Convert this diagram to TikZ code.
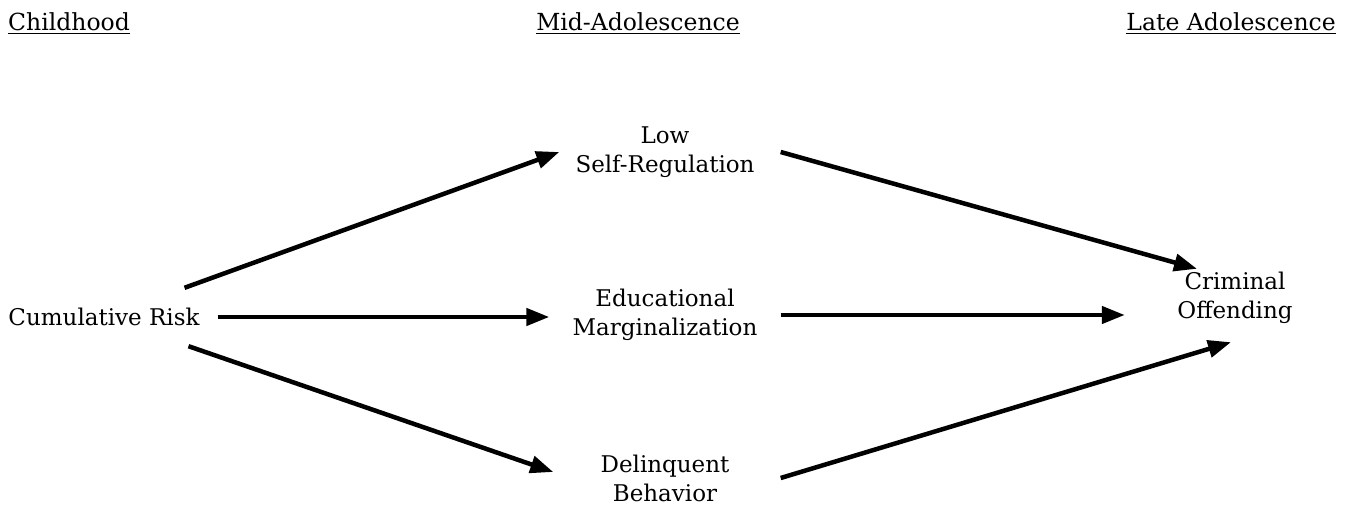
\documentclass[tikz,border=0pt]{standalone}
\usepackage{fontspec}
\setmainfont{DejaVu Serif}
\usetikzlibrary{arrows.meta}
\begin{document}
\begin{tikzpicture}[x=1pt,y=-1pt,
  lbl/.style={font=\fontsize{23}{29}\selectfont, align=center, inner sep=0pt},
  head/.style={font=\fontsize{23.5}{29}\selectfont, inner sep=0pt},
  mid/.style={lbl, minimum width=231pt, minimum height=40pt},
  arr/.style={line width=4.5pt, -{Triangle[length=23pt,width=17pt]}}]
\useasboundingbox (0,0) rectangle (1357,510);
\node[head, anchor=base west] (h1) at (8,31) {\underline{Childhood}};
\node[head, anchor=base] (h2) at (638,31) {\underline{Mid-Adolescence}};
\node[head, anchor=base east] (h3) at (1336,31) {\underline{Late Adolescence}};
\node[lbl, inner xsep=18pt, minimum height=58pt] (cr) at (104,317) {Cumulative Risk};
\node[mid] (lsr) at (665,152) {Low\\Self-Regulation};
\node[mid] (em) at (665,315) {Educational\\Marginalization};
\node[mid] (db) at (665,478) {Delinquent\\Behavior};
\node[lbl, minimum width=220pt, minimum height=58pt] (co) at (1235,298) {Criminal\\Offending};
\draw[arr] (cr) -- ([xshift=10pt]lsr.west);
\draw[arr] (cr.east) -- (em.west |- cr.east);
\draw[arr] (cr) -- ([xshift=4pt,yshift=6pt]db.west);
\draw[arr] (lsr.east) -- ([xshift=-38pt]co.north);
\draw[arr] (em.east) -- (em.east -| co.west);
\draw[arr] (db.east) -- ([xshift=-4pt,yshift=-15pt]co.south);
\end{tikzpicture}
\end{document}
